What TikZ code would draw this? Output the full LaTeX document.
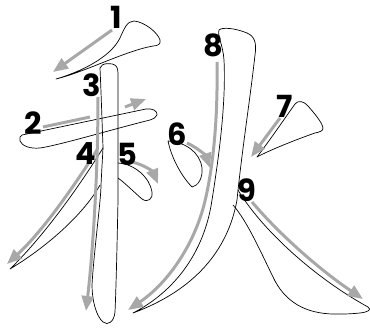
\documentclass[tikz,border=0pt]{standalone}
\usepackage{fontspec}
\newfontfamily\numfont{Poppins}
\usetikzlibrary{arrows.meta}
\definecolor{arrowgray}{HTML}{A8A8A8}
\tikzset{
  strokeline/.style={draw=black, line width=0.7pt, line join=round},
  grayline/.style={draw=arrowgray, line width=3pt},
  grayarrow/.style={grayline, -{Triangle[length=15pt,width=12pt]}},
  numlabel/.style={font=\numfont\bfseries\fontsize{30.5}{30.5}\selectfont, inner sep=0pt, text=black},
}
\begin{document}
\begin{tikzpicture}[x=1pt,y=-1pt]
\useasboundingbox (0,0) rectangle (370,328);
% stroke 1
\path[strokeline] (56,79) .. controls (80,72) and (110,58) .. (120,38)
  .. controls (124,29) and (127,21) .. (134,21)
  .. controls (145,22) and (158,33) .. (160,40)
  .. controls (161,44) and (158,46) .. (153,46)
  .. controls (125,51) and (85,72) .. (56,79) -- cycle;
% stroke 2
\path[strokeline] (22,135) -- (146,109) .. controls (152,108) and (158,111) .. (157,115)
  .. controls (156,118) and (153,119) .. (150,120)
  .. controls (110,130) and (60,145) .. (40,148)
  .. controls (30,149) and (22,146) .. (20,141)
  .. controls (19,138) and (20,136) .. (22,135) -- cycle;
% stroke 3
\path[strokeline] (100,68) .. controls (101,63) and (112,62) .. (116,66)
  .. controls (118,68) and (118,72) .. (118,76) -- (118,200)
  .. controls (117,250) and (116,290) .. (115,312)
  .. controls (114,322) and (108,326) .. (103,322)
  .. controls (96,316) and (92,300) .. (92,285)
  .. controls (94,250) and (101,200) .. (101,185)
  .. controls (102,165) and (103,150) .. (103,147)
  .. controls (102,120) and (101,90) .. (100,68) -- cycle;
% stroke 4
\path[strokeline] (103,148) .. controls (80,185) and (45,235) .. (10,269)
  .. controls (50,245) and (85,212) .. (100,185);
% stroke 5
\path[strokeline] (118,163) .. controls (135,164) and (150,178) .. (152,192)
  .. controls (153,199) and (148,203) .. (142,199)
  .. controls (135,193) and (125,183) .. (118,178);
% stroke 6
\path[strokeline] (168,141) .. controls (185,142) and (200,152) .. (202,168)
  .. controls (203,178) and (198,186) .. (192,187)
  .. controls (183,178) and (172,160) .. (168,141) -- cycle;
% stroke 7
\path[strokeline] (257,157) .. controls (270,140) and (285,118) .. (295,104)
  .. controls (298,100) and (304,101) .. (308,106)
  .. controls (314,113) and (322,122) .. (323,128)
  .. controls (323,131) and (320,132) .. (315,133)
  .. controls (295,140) and (270,150) .. (257,157) -- cycle;
% stroke 8
\path[strokeline] (133,313) .. controls (172,293) and (204,255) .. (212,200)
  .. controls (220,150) and (226,100) .. (224,60)
  .. controls (223,45) and (217,35) .. (219,30)
  .. controls (222,27) and (235,28) .. (247,33)
  .. controls (254,36) and (257,42) .. (255,55)
  .. controls (250,100) and (242,150) .. (237,200)
  .. controls (228,250) and (195,290) .. (133,313) -- cycle;
% stroke 9
\path[strokeline] (238,190) .. controls (262,230) and (315,278) .. (368,307)
  .. controls (372,310) and (368,312) .. (360,313)
  .. controls (350,314) and (345,314) .. (340,314)
  .. controls (310,315) and (288,305) .. (275,281)
  .. controls (262,255) and (248,222) .. (233,205);
% arrows
\draw[grayarrow] (112,30) -- (53,72);
\draw[grayline] (43,127) -- (90,117);
\draw[grayarrow] (125,107) -- (146,99);
\draw[grayarrow] (98,97) .. controls (98,180) and (92,260) .. (86,311);
\draw[grayarrow] (97,150) .. controls (75,185) and (42,232) .. (7,264);
\draw[grayarrow] (132,162) .. controls (145,165) and (153,172) .. (158,184);
\draw[grayarrow] (187,143) .. controls (198,148) and (206,156) .. (210,168);
\draw[grayarrow] (280,118) -- (251,157);
\draw[grayarrow] (217,62) .. controls (218,120) and (213,170) .. (204,205)
  .. controls (192,250) and (165,285) .. (128,310);
\draw[grayarrow] (252,202) .. controls (280,235) and (320,270) .. (363,299);
% labels
\node[numlabel] (n1) at (116,17) {1};
\node[numlabel] (n2) at (33,123) {2};
\node[numlabel] (n3) at (92,85) {3};
\node[numlabel] (n4) at (86,154) {4};
\node[numlabel] (n5) at (127,154) {5};
\node[numlabel] (n6) at (177,134) {6};
\node[numlabel] (n7) at (285,106) {7};
\node[numlabel] (n8) at (213,45) {8};
\node[numlabel] (n9) at (247,190) {9};
\end{tikzpicture}
\end{document}
